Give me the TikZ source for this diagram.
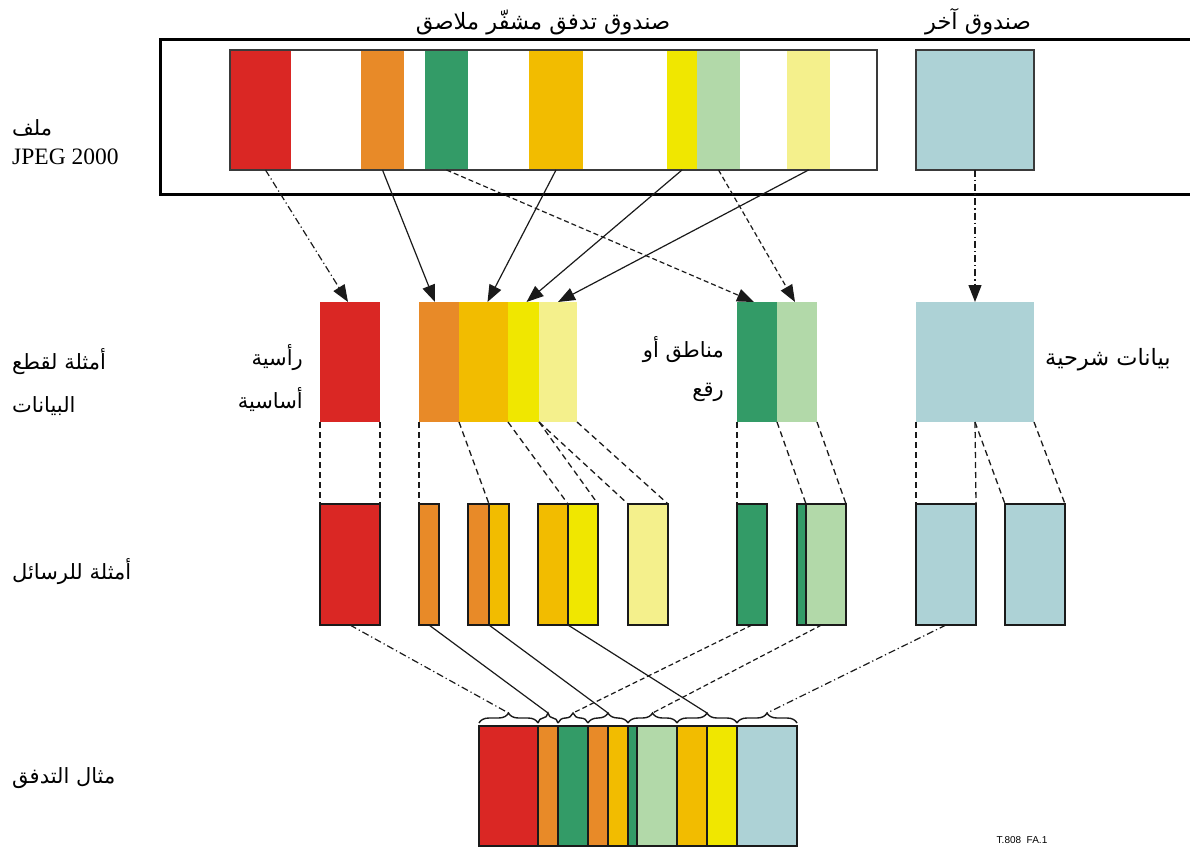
\documentclass[tikz,border=0pt]{standalone}
\usepackage{fontspec}
\setmainfont{Liberation Serif}
\newfontfamily\arabicfont[Script=Arabic]{DejaVu Sans}
\newfontfamily\idfont{Liberation Sans}
\TeXXeTstate=1
\usetikzlibrary{arrows.meta,decorations.pathreplacing,calc}

\definecolor{cRed}{HTML}{DA2724}
\definecolor{cOr}{HTML}{E88A28}
\definecolor{cGr}{HTML}{339B67}
\definecolor{cOY}{HTML}{F2BC00}
\definecolor{cYe}{HTML}{F0E700}
\definecolor{cLG}{HTML}{B2D9A9}
\definecolor{cPa}{HTML}{F4F08C}
\definecolor{cLB}{HTML}{ADD2D6}
\definecolor{lineC}{HTML}{1A1A1A}
\definecolor{boxC}{HTML}{3A3A3A}

\begin{document}
\begin{tikzpicture}[x=1pt,y=-1pt,
  stripe/.style={rectangle, inner sep=0pt, outer sep=0pt, anchor=north west, minimum height=120pt},
  binbox/.style={stripe},
  msgbox/.style={stripe, minimum height=121pt, draw=lineC, line width=1.8pt},
  strmbox/.style={stripe, draw=lineC, line width=1.4pt},
  solidc/.style={draw=lineC, line width=1.2pt},
  dashc/.style={solidc, dash pattern=on 5pt off 3pt},
  dashdotc/.style={solidc, dash pattern=on 7pt off 3pt on 1.2pt off 3pt},
  tip/.style={-{Triangle[length=17pt,width=13pt]}},
  split/.style={draw=lineC, line width=1.3pt, dash pattern=on 6pt off 4pt},
  brc/.style={draw=lineC, line width=1.4pt, decorate, decoration={brace, amplitude=10pt}},
  frame/.style={draw=black, line width=3pt},
  lab/.style={inner sep=0pt, font=\arabicfont\fontsize{21}{24}\selectfont},
  biglab/.style={lab, font=\arabicfont\fontsize{22.5}{26}\selectfont},
  latin/.style={inner sep=0pt, font=\fontsize{23.5}{26}\selectfont},
]
\useasboundingbox (0,0) rectangle (1190,850);

% ---- JPEG 2000 file frame ----
\draw[frame] (1190,40) -- (160,40) -- (160,195) -- (1190,195);

% contiguous codestream box and its coloured parts
\node[stripe, fill=cRed, minimum width=61pt] (fRed) at (230,50) {};
\node[stripe, fill=cOr,  minimum width=43pt] (fOr)  at (361,50) {};
\node[stripe, fill=cGr,  minimum width=43pt] (fGr)  at (425,50) {};
\node[stripe, fill=cOY,  minimum width=54pt] (fOY)  at (529,50) {};
\node[stripe, fill=cYe,  minimum width=30pt] (fYe)  at (667,50) {};
\node[stripe, fill=cLG,  minimum width=43pt] (fLG)  at (697,50) {};
\node[stripe, fill=cPa,  minimum width=43pt] (fPa)  at (787,50) {};
\node[stripe, draw=boxC, line width=1.5pt, minimum width=647pt] (codestream) at (230,50) {};
% other box
\node[stripe, fill=cLB, draw=boxC, line width=1.2pt, minimum width=118pt] (fLB) at (916,50) {};

% ---- data-bin examples ----
\node[binbox, fill=cRed, minimum width=60pt] (dRed) at (320,302) {};
\node[binbox, fill=cOr,  minimum width=40pt] (dOr)  at (419,302) {};
\node[binbox, fill=cOY,  minimum width=49pt] (dOY)  at (459,302) {};
\node[binbox, fill=cYe,  minimum width=31pt] (dYe)  at (508,302) {};
\node[binbox, fill=cPa,  minimum width=38pt] (dPa)  at (539,302) {};
\node[binbox, fill=cGr,  minimum width=40pt] (dGr)  at (737,302) {};
\node[binbox, fill=cLG,  minimum width=40pt] (dLG)  at (777,302) {};
\node[binbox, fill=cLB,  minimum width=118pt] (dLB) at (916,302) {};

% ---- message examples ----
\node[msgbox, fill=cRed, minimum width=60pt] (mRed) at (320,504) {};
\node[msgbox, fill=cOr,  minimum width=20pt] (mOr)  at (419,504) {};
\node[msgbox, fill=cOr,  minimum width=21pt] (mOa)  at (468,504) {};
\node[msgbox, fill=cOY,  minimum width=20pt] (mOb)  at (489,504) {};
\node[msgbox, fill=cOY,  minimum width=30pt] (mYa)  at (538,504) {};
\node[msgbox, fill=cYe,  minimum width=30pt] (mYb)  at (568,504) {};
\node[msgbox, fill=cPa,  minimum width=40pt] (mPa)  at (628,504) {};
\node[msgbox, fill=cGr,  minimum width=30pt] (mGr)  at (737,504) {};
\node[msgbox, fill=cGr,  minimum width=9pt]  (mGa)  at (797,504) {};
\node[msgbox, fill=cLG,  minimum width=40pt] (mGb)  at (806,504) {};
\node[msgbox, fill=cLB,  minimum width=60pt] (mB1)  at (916,504) {};
\node[msgbox, fill=cLB,  minimum width=60pt] (mB2)  at (1005,504) {};

% ---- stream example ----
\node[strmbox, fill=cRed, minimum width=59pt] (s1)  at (479,726) {};
\node[strmbox, fill=cOr,  minimum width=20pt] (s2)  at (538,726) {};
\node[strmbox, fill=cGr,  minimum width=30pt] (s3)  at (558,726) {};
\node[strmbox, fill=cOr,  minimum width=20pt] (s4)  at (588,726) {};
\node[strmbox, fill=cOY,  minimum width=20pt] (s5)  at (608,726) {};
\node[strmbox, fill=cGr,  minimum width=9pt]  (s6)  at (628,726) {};
\node[strmbox, fill=cLG,  minimum width=40pt] (s7)  at (637,726) {};
\node[strmbox, fill=cOY,  minimum width=30pt] (s8)  at (677,726) {};
\node[strmbox, fill=cYe,  minimum width=30pt] (s9)  at (707,726) {};
\node[strmbox, fill=cLB,  minimum width=60pt] (s10) at (737,726) {};

% braces over the messages inside the stream, with their tip points
\foreach \a/\b/\t in {s1/s1/t1, s2/s2/t2, s3/s3/t3, s4/s5/t4, s6/s7/t5, s8/s9/t6, s10/s10/t7}{
  \draw[brc] ([yshift=3pt]\a.north west) -- ([yshift=3pt]\b.north east);
  \path ($(\a.north west)!0.5!(\b.north east)$) ++(0pt,13pt) coordinate (\t);
}

% ---- codestream parts to data bins ----
\draw[dashdotc, tip] ([xshift=5pt]fRed.south) -- ([xshift=-2pt]dRed.north);
\draw[solidc, tip] (fOr.south) -- ([xshift=-4pt]dOr.north);
\draw[solidc, tip] (fOY.south) -- ([xshift=4pt]dOY.north);
\draw[solidc, tip] (fYe.south) -- ([xshift=3pt]dYe.north);
\draw[solidc, tip] (fPa.south) -- (dPa.north);
\draw[dashc, tip] (fGr.south) -- ([xshift=-3pt]dGr.north);
\draw[dashc, tip] (fLG.south) -- ([xshift=-2pt]dLG.north);
\draw[dashdotc, tip] (fLB.south) -- (dLB.north);

% ---- data bins split into messages ----
\draw[split] (dRed.south west) -- (mRed.north west);
\draw[split] (dRed.south east) -- (mRed.north east);
\draw[split] (dOr.south west) -- (mOr.north west);
\draw[split] (dOY.south west) -- (mOb.north west);
\draw[split] (dYe.south west) -- (mYb.north west);
\draw[split] (dPa.south west) -- (mYb.north east);
\draw[split] (dPa.south west) -- (mPa.north west);
\draw[split] (dPa.south east) -- (mPa.north east);
\draw[split] (dGr.south west) -- (mGr.north west);
\draw[split] (dLG.south west) -- (mGb.north west);
\draw[split] (dLG.south east) -- (mGb.north east);
\draw[split] (dLB.south west) -- (mB1.north west);
\draw[split] (dLB.south) -- (mB1.north east);
\draw[split] (dLB.south) -- (mB2.north west);
\draw[split] (dLB.south east) -- (mB2.north east);

% ---- messages into the stream ----
\draw[dashdotc] (mRed.south) -- (t1);
\draw[solidc] (mOr.south) -- (t2);
\draw[dashc] (mGr.south) -- (t3);
\draw[solidc] (mOa.south east) -- (t4);
\draw[dashc] ($(mGa.south west)!0.5!(mGb.south east)$) -- (t5);
\draw[solidc] (mYa.south east) -- (t6);
\draw[dashdotc] (mB1.south) -- (t7);

% ---- labels ----
\node[biglab] (lCs) at (543,22) {\beginR صندوق تدفق مشفّر ملاصق\endR};
\node[biglab] (lOther) at (978,22) {\beginR صندوق آخر\endR};

\node[lab, anchor=west] (lFile) at (12,128) {\beginR ملف\endR};
\node[latin, anchor=west] (lJpeg) at (12,157) {JPEG 2000};
\node[lab, anchor=west] (lBins1) at (12,362) {\beginR أمثلة لقطع\endR};
\node[lab, anchor=west] (lBins2) at (12,406) {\beginR البيانات\endR};
\node[lab, anchor=west] (lMsgs) at (12,572) {\beginR أمثلة للرسائل\endR};
\node[lab, anchor=west] (lStream) at (12,778) {\beginR مثال التدفق\endR};

\node[lab, anchor=east] (lHead1) at (303,358) {\beginR رأسية\endR};
\node[lab, anchor=east] (lHead2) at (303,400) {\beginR أساسية\endR};
\node[lab, anchor=east] (lTile1) at (724,350) {\beginR مناطق أو\endR};
\node[lab, anchor=east] (lTile2) at (724,392) {\beginR رقع\endR};
\node[biglab, anchor=west] (lMeta) at (1045,360) {\beginR بيانات شرحية\endR};

\node[inner sep=0pt, font=\idfont\fontsize{10}{12}\selectfont] (figId) at (1022,840) {T.808\ \ FA.1};
\end{tikzpicture}
\end{document}
